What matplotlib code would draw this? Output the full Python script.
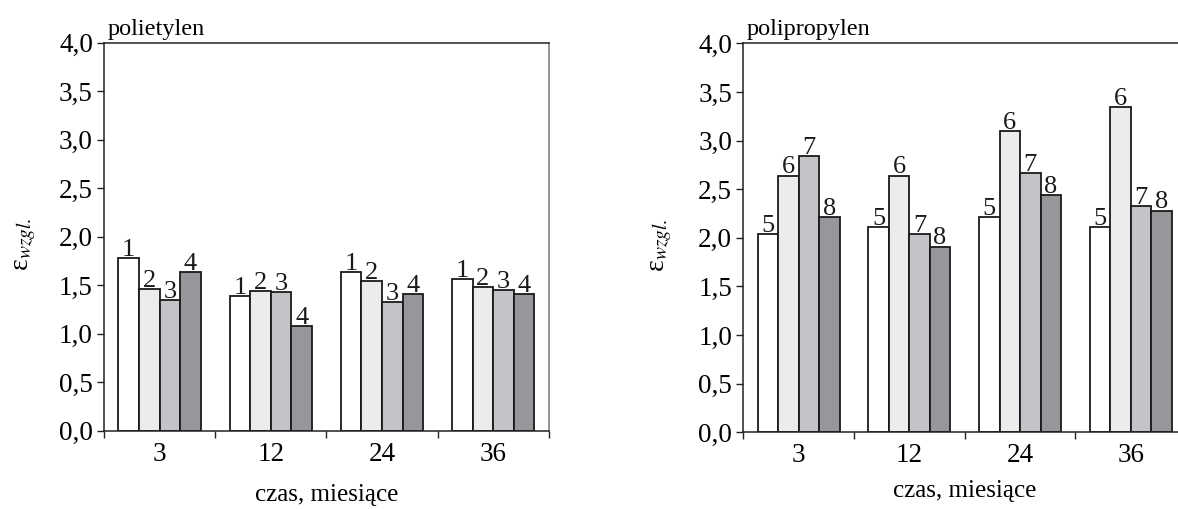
import matplotlib
matplotlib.use("Agg")
import matplotlib.pyplot as plt
import numpy as np
from matplotlib.ticker import FuncFormatter, FixedLocator

# ---- data ----
months = ["3", "12", "24", "36"]
pe_labels = ["1", "2", "3", "4"]
pe_values = [
    [1.78, 1.39, 1.64, 1.56],   # 1
    [1.46, 1.44, 1.54, 1.48],   # 2
    [1.35, 1.43, 1.33, 1.45],   # 3
    [1.64, 1.08, 1.41, 1.41],   # 4
]
pp_labels = ["5", "6", "7", "8"]
pp_values = [
    [2.04, 2.11, 2.21, 2.11],   # 5
    [2.64, 2.64, 3.10, 3.34],   # 6
    [2.84, 2.04, 2.67, 2.33],   # 7
    [2.21, 1.91, 2.44, 2.28],   # 8
]
yticks = [0.0, 0.5, 1.0, 1.5, 2.0, 2.5, 3.0, 3.5, 4.0]
titles = ["polietylen", "polipropylen"]
xlabel = "czas, miesiące"
ylabel = "ε$_{wzgl.}$"

colors = ["#ffffff", "#ececee", "#c3c4c7", "#97969b"]

plt.rcParams["font.family"] = ["Liberation Serif", "DejaVu Serif"]
plt.rcParams["mathtext.fontset"] = "stix"

fig = plt.figure(figsize=(11.78, 5.09), dpi=100)
W, H = 1178.0, 509.0

def make_ax(left, top, right, bottom):
    return fig.add_axes([left / W, (H - bottom) / H, (right - left) / W, (bottom - top) / H])

axL = make_ax(104.0, 42.7, 548.7, 430.7)
axR = make_ax(743.3, 43.3, 1186.1, 432.3)

bw = 0.185
x = np.arange(len(months))

panels = [(axL, pe_values, pe_labels, titles[0], -0.148, -0.138),
          (axR, pp_values, pp_labels, titles[1], -0.157, -0.123)]

for ax, vals, labs, title, ylx, xly in panels:
    n = len(vals)
    for i, (series, lab) in enumerate(zip(vals, labs)):
        pos = x + (i - (n - 1) / 2) * bw
        ax.bar(pos, series, width=bw, color=colors[i], edgecolor="#1a1a1a",
               linewidth=1.3, zorder=2)
        for px, v in zip(pos, series):
            ax.text(px, v - 0.03, lab, ha="center", va="bottom", fontsize=19,
                    color="#1a1a1a")
    ax.set_xlim(-0.5, len(months) - 0.5)
    ax.set_ylim(0, 4.0)
    ax.yaxis.set_major_locator(FixedLocator(yticks))
    ax.yaxis.set_major_formatter(FuncFormatter(lambda v, p: f"{v:.1f}".replace(".", ",")))
    ax.xaxis.set_major_locator(FixedLocator(np.arange(-0.5, len(months), 1.0)))
    ax.xaxis.set_major_formatter(FuncFormatter(lambda v, p: ""))
    ax.xaxis.set_minor_locator(FixedLocator(x))
    ax.set_xticklabels(months, minor=True)
    ax.tick_params(axis="x", which="major", direction="out", length=5, width=1.0,
                   color="#222222")
    ax.tick_params(axis="x", which="minor", length=0, pad=8, labelsize=19.5)
    ax.tick_params(axis="y", which="major", direction="out", length=5, width=1.0,
                   color="#222222", labelsize=19.5, pad=3)
    for s in ["left", "bottom", "top"]:
        ax.spines[s].set_color("#222222")
        ax.spines[s].set_linewidth(1.1)
    ax.spines["right"].set_color("#777777")
    ax.spines["right"].set_linewidth(1.1)
    ax.set_xlabel(xlabel, fontsize=18)
    ax.xaxis.set_label_coords(0.5, xly)
    ax.set_ylabel(ylabel, fontsize=20)
    ax.yaxis.set_label_coords(ylx, 0.48)
    ax.text(0.008, 1.008, title, transform=ax.transAxes, ha="left", va="bottom",
            fontsize=17.5)

fig.savefig("out.png", dpi=100)
